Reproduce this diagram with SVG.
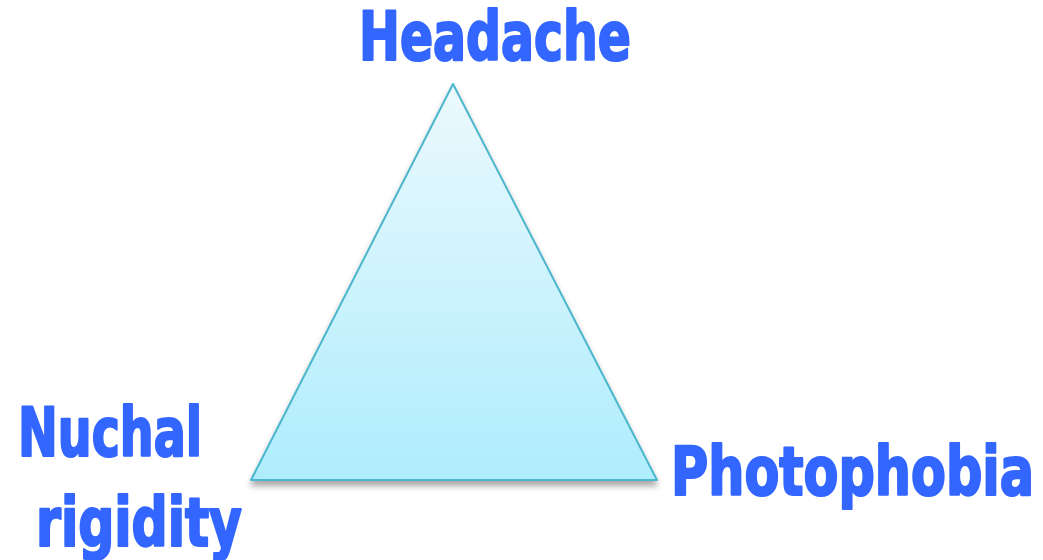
<svg xmlns="http://www.w3.org/2000/svg" width="1043" height="560" viewBox="0 0 1043 560">
<defs>
<linearGradient id="g" x1="0" y1="0" x2="0" y2="1">
<stop offset="0" stop-color="#ecf9fd"/>
<stop offset="1" stop-color="#aeedfd"/>
</linearGradient>
<filter id="sh" x="-10%" y="-10%" width="120%" height="130%">
<feGaussianBlur in="SourceAlpha" stdDeviation="3"/>
<feOffset dx="0" dy="5"/>
<feComponentTransfer><feFuncA type="linear" slope="0.35"/></feComponentTransfer>
<feMerge><feMergeNode/><feMergeNode in="SourceGraphic"/></feMerge>
</filter>
</defs>
<style>
.lbl{font-family:"DejaVu Sans Condensed","DejaVu Sans",sans-serif;font-stretch:condensed;font-weight:bold;fill:#3366ff;stroke:#3366ff;stroke-width:2.2;stroke-linejoin:round;font-size:68px}
</style>
<g id="triangle">
<polygon points="453,84 251,480 657,480" fill="url(#g)" stroke="#4cb6cc" stroke-width="2" stroke-linejoin="round" filter="url(#sh)"/>
</g>
<g id="headache"><text class="lbl" x="359" y="60" textLength="272" lengthAdjust="spacingAndGlyphs">Headache</text></g>
<g id="nuchal"><text class="lbl" x="18" y="456" textLength="184" lengthAdjust="spacingAndGlyphs">Nuchal</text>
<text class="lbl" x="36" y="546" textLength="206" lengthAdjust="spacingAndGlyphs">rigidity</text></g>
<g id="photophobia"><text class="lbl" x="671" y="495" textLength="363" lengthAdjust="spacingAndGlyphs">Photophobia</text></g>
<g id="connectors"></g>
</svg>
